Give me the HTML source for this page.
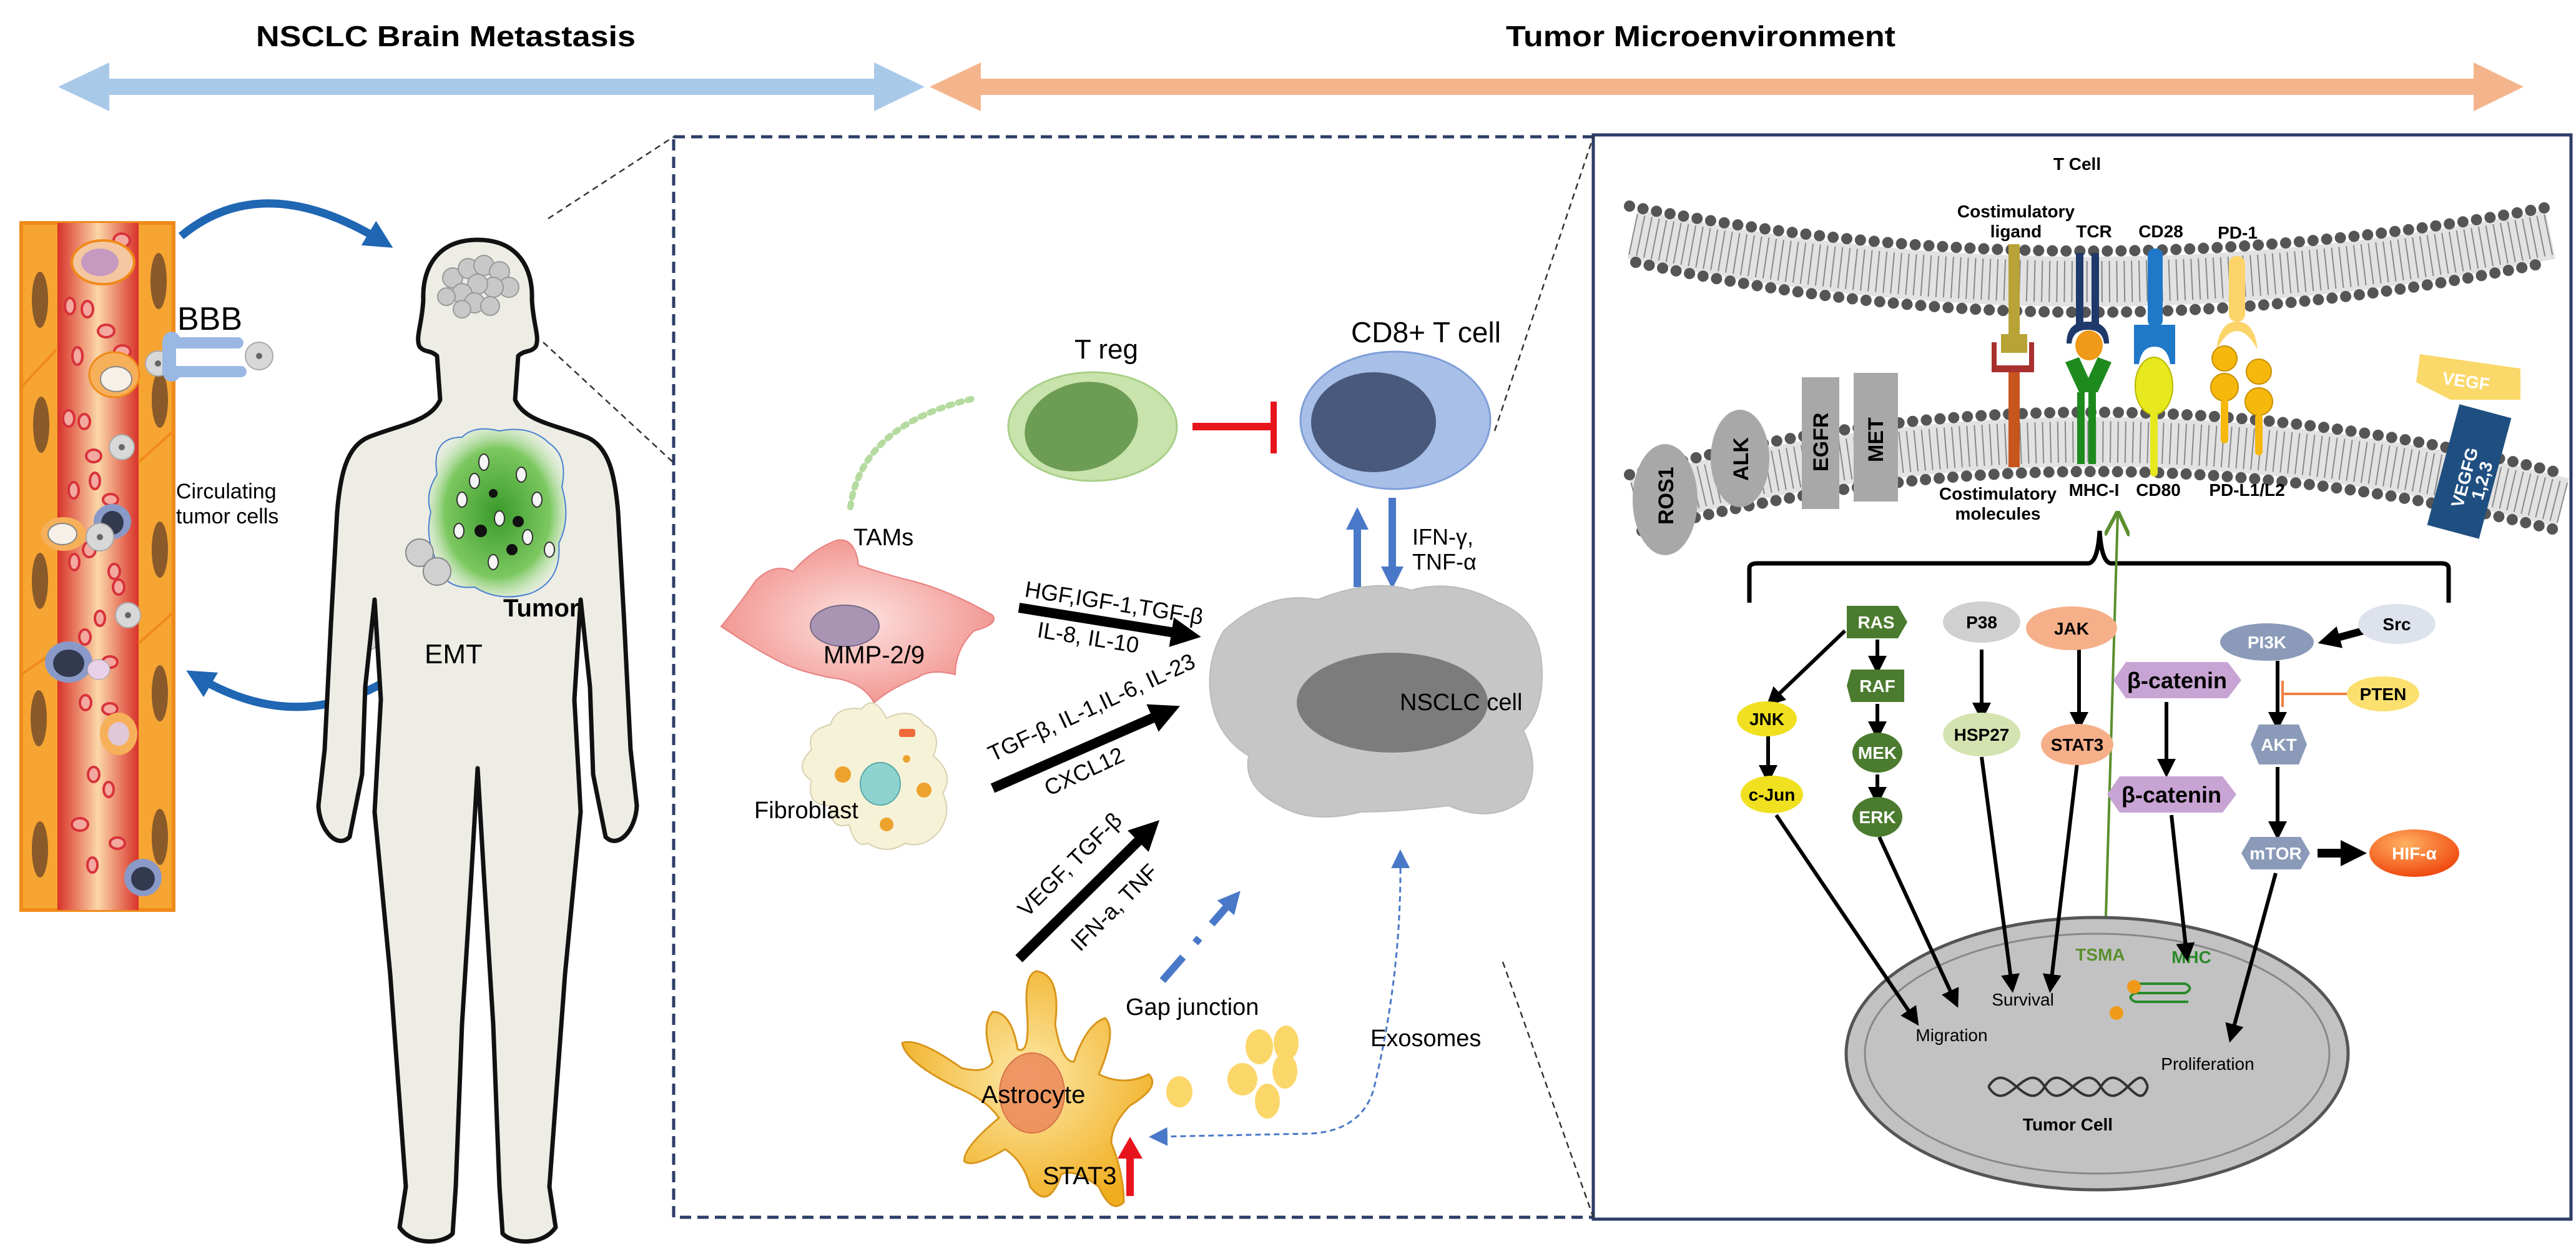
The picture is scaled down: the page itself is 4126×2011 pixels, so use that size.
<!DOCTYPE html>
<html><head><meta charset="utf-8"><style>
html,body{margin:0;padding:0;background:#fff}
svg{display:block}
text{font-family:"Liberation Sans Narrow","Liberation Sans",sans-serif}
.b{font-weight:bold}
</style></head><body>
<svg width="4126" height="2011" viewBox="0 0 4126 2011" xmlns="http://www.w3.org/2000/svg">
<defs>
<marker id="ah" viewBox="0 0 10 10" refX="5" refY="5" markerWidth="3" markerHeight="3" orient="auto"><path d="M0,0 L10,5 L0,10 z" fill="#000"/></marker>
<marker id="ahs" viewBox="0 0 10 10" refX="5" refY="5" markerWidth="5" markerHeight="5" orient="auto"><path d="M0,0 L10,5 L0,10 z" fill="#000"/></marker>
<marker id="ab" viewBox="0 0 10 10" refX="5" refY="5" markerWidth="3.5" markerHeight="3.5" orient="auto"><path d="M0,0 L10,5 L0,10 z" fill="#1f66b3"/></marker>
<marker id="ab2" viewBox="0 0 10 10" refX="5" refY="5" markerWidth="3" markerHeight="3" orient="auto"><path d="M0,0 L10,5 L0,10 z" fill="#4a78c8"/></marker>
<marker id="ab3" viewBox="0 0 10 10" refX="5" refY="5" markerWidth="10" markerHeight="10" orient="auto-start-reverse"><path d="M0,0 L10,5 L0,10 z" fill="#4a78c8"/></marker>
<marker id="ag" viewBox="0 0 10 10" refX="9" refY="5" markerWidth="10" markerHeight="10" orient="auto"><path d="M0,0 L10,5 L0,10" fill="none" stroke="#5a8f2e" stroke-width="1.5"/></marker>
<radialGradient id="gtam" cx="0.5" cy="0.5" r="0.6"><stop offset="0" stop-color="#fde3e0"/><stop offset="1" stop-color="#f08a85"/></radialGradient>
<radialGradient id="gast" cx="0.5" cy="0.45" r="0.6"><stop offset="0" stop-color="#fde9a8"/><stop offset="1" stop-color="#f0ad1e"/></radialGradient>
<radialGradient id="glung" cx="0.5" cy="0.5" r="0.55"><stop offset="0" stop-color="#3a9a2a"/><stop offset="0.7" stop-color="#7cc860"/><stop offset="1" stop-color="#d8efd0" stop-opacity="0.3"/></radialGradient>
<radialGradient id="ghif" cx="0.4" cy="0.3" r="0.7"><stop offset="0" stop-color="#ffb060"/><stop offset="1" stop-color="#f04a10"/></radialGradient>
<linearGradient id="glum" x1="0" x2="1"><stop offset="0" stop-color="#d8322a"/><stop offset="0.5" stop-color="#fbd7a8"/><stop offset="1" stop-color="#d8322a"/></linearGradient>
</defs>

<text x="714" y="74" class="b" font-size="46" text-anchor="middle" textLength="608" lengthAdjust="spacingAndGlyphs">NSCLC Brain Metastasis</text>
<text x="2724" y="74" class="b" font-size="46" text-anchor="middle" textLength="624" lengthAdjust="spacingAndGlyphs">Tumor Microenvironment</text>
<path d="M93 139 L175 100 L175 126 L1400 126 L1400 100 L1481 139 L1400 178 L1400 152 L175 152 L175 178 Z" fill="#a9c9e9"/>
<path d="M1489 139 L1571 100 L1571 126 L3962 126 L3962 100 L4042 139 L3962 178 L3962 152 L1571 152 L1571 178 Z" fill="#f5b58c"/>

<rect x="1079" y="219" width="1473" height="1730" fill="none" stroke="#2c3d66" stroke-width="5" stroke-dasharray="18 10"/>
<rect x="2552" y="216" width="1566" height="1736" fill="none" stroke="#2c3d66" stroke-width="5"/>
<g stroke="#333" stroke-width="2.5" stroke-dasharray="10 7" fill="none">
<line x1="878" y1="350" x2="1079" y2="219"/>
<line x1="870" y1="548" x2="1079" y2="741"/>
<line x1="2394" y1="690" x2="2552" y2="219"/>
<line x1="2407" y1="1540" x2="2552" y2="1949"/>
</g>

<rect x="34" y="357" width="244" height="1100" fill="#f6a532" stroke="#f08a1a" stroke-width="6"/>
<rect x="92" y="357" width="130" height="1100" fill="url(#glum)"/>
<g fill="#8a5a2a"><ellipse cx="64" cy="480" rx="13" ry="45"/><ellipse cx="66" cy="680" rx="13" ry="45"/><ellipse cx="64" cy="930" rx="13" ry="45"/><ellipse cx="62" cy="1150" rx="13" ry="45"/><ellipse cx="64" cy="1360" rx="13" ry="45"/><ellipse cx="254" cy="450" rx="13" ry="45"/><ellipse cx="256" cy="640" rx="13" ry="45"/><ellipse cx="256" cy="880" rx="13" ry="45"/><ellipse cx="256" cy="1110" rx="13" ry="45"/><ellipse cx="256" cy="1340" rx="13" ry="45"/></g>
<g stroke="#f08a1a" stroke-width="4"><line x1="34" y1="620" x2="90" y2="560"/><line x1="222" y1="740" x2="278" y2="690"/><line x1="34" y1="1080" x2="92" y2="1040"/><line x1="222" y1="1030" x2="278" y2="980"/></g>
<g fill="#f3a9a0" stroke="#d8323a" stroke-width="4">
<ellipse cx="195" cy="385" rx="13" ry="11"/><ellipse cx="112" cy="490" rx="8" ry="13"/><ellipse cx="140" cy="495" rx="9" ry="13"/><ellipse cx="170" cy="530" rx="13" ry="10"/><ellipse cx="124" cy="570" rx="8" ry="14"/><ellipse cx="196" cy="563" rx="13" ry="10"/><ellipse cx="110" cy="670" rx="9" ry="13"/><ellipse cx="135" cy="675" rx="9" ry="12"/><ellipse cx="150" cy="730" rx="12" ry="10"/><ellipse cx="152" cy="770" rx="8" ry="13"/><ellipse cx="118" cy="785" rx="8" ry="13"/><ellipse cx="177" cy="800" rx="12" ry="9"/><ellipse cx="143" cy="880" rx="10" ry="12"/><ellipse cx="119" cy="900" rx="8" ry="13"/><ellipse cx="183" cy="915" rx="9" ry="12"/><ellipse cx="190" cy="940" rx="9" ry="12"/><ellipse cx="160" cy="990" rx="8" ry="12"/><ellipse cx="136" cy="1020" rx="9" ry="12"/><ellipse cx="176" cy="1060" rx="12" ry="9"/><ellipse cx="137" cy="1125" rx="9" ry="12"/><ellipse cx="176" cy="1135" rx="12" ry="9"/><ellipse cx="150" cy="1240" rx="9" ry="12"/><ellipse cx="174" cy="1264" rx="8" ry="12"/><ellipse cx="128" cy="1320" rx="13" ry="10"/><ellipse cx="188" cy="1350" rx="12" ry="9"/><ellipse cx="148" cy="1385" rx="8" ry="12"/></g>
<ellipse cx="165" cy="420" rx="50" ry="35" fill="#f5c7a0" stroke="#f08a1a" stroke-width="4"/><ellipse cx="160" cy="420" rx="30" ry="22" fill="#c69ac0"/>
<ellipse cx="183" cy="600" rx="40" ry="36" fill="#f7b05a" stroke="#f08a1a" stroke-width="3"/><ellipse cx="186" cy="607" rx="25" ry="20" fill="#f6f0e8" stroke="#888" stroke-width="2"/>
<ellipse cx="102" cy="855" rx="36" ry="27" fill="#f7b05a"/><ellipse cx="100" cy="855" rx="23" ry="17" fill="#f6f0e8" stroke="#888" stroke-width="2"/>
<ellipse cx="180" cy="835" rx="30" ry="28" fill="#8a9ac8"/><ellipse cx="180" cy="837" rx="18" ry="19" fill="#333a50"/>
<ellipse cx="110" cy="1060" rx="38" ry="33" fill="#8a9ac8"/><ellipse cx="110" cy="1062" rx="25" ry="22" fill="#333a50"/>
<ellipse cx="229" cy="1405" rx="30" ry="30" fill="#8a9ac8"/><ellipse cx="229" cy="1407" rx="19" ry="19" fill="#333a50"/>
<ellipse cx="190" cy="1175" rx="30" ry="34" fill="#f7b05a"/><ellipse cx="190" cy="1175" rx="17" ry="19" fill="#e0c8d8"/>
<ellipse cx="158" cy="1072" rx="18" ry="16" fill="#e8d0e8" stroke="#999"/>
<g fill="#d8d8d8" stroke="#aaa" stroke-width="2"><circle cx="253" cy="582" r="20"/><circle cx="195" cy="716" r="20"/><circle cx="160" cy="860" r="22"/><circle cx="205" cy="985" r="20"/><circle cx="415" cy="570" r="22"/><circle cx="590" cy="1020" r="20"/></g>
<g fill="#666"><circle cx="253" cy="582" r="5"/><circle cx="195" cy="716" r="5"/><circle cx="160" cy="860" r="5"/><circle cx="205" cy="985" r="5"/><circle cx="415" cy="570" r="5"/><circle cx="590" cy="1020" r="5"/></g>
<g fill="#9bb8e4"><rect x="265" y="540" width="125" height="18" rx="9"/><rect x="265" y="586" width="130" height="18" rx="9"/><circle cx="275" cy="545" r="14"/><circle cx="275" cy="597" r="14"/><rect x="260" y="545" width="22" height="55"/></g>
<text x="284" y="528" font-size="52">BBB</text>
<text x="282" y="798" font-size="34">Circulating</text>
<text x="282" y="838" font-size="34">tumor cells</text>
<path d="M290 378 Q420 270 610 385" fill="none" stroke="#1f66b3" stroke-width="13" marker-end="url(#ab)"/>
<path d="M632 1082 Q480 1180 318 1085" fill="none" stroke="#1f66b3" stroke-width="13" marker-end="url(#ab)"/>

<path d="M765 384 C700 384 676 430 678 480 C676 520 665 540 672 555 C680 565 690 560 700 570 L705 640 C690 675 640 680 590 700 C555 715 545 760 540 820 L530 1000 L520 1200 L510 1290 C512 1330 540 1360 560 1340 L580 1240 L585 1100 L600 960 L610 1120 L600 1300 L625 1560 L650 1900 L640 1965 C660 1995 710 1992 725 1975 L730 1900 L740 1640 L755 1400 L765 1230 L775 1400 L790 1640 L800 1900 L805 1975 C820 1992 870 1995 890 1965 L880 1900 L905 1560 L930 1300 L920 1120 L930 960 L945 1100 L950 1240 L970 1340 C990 1360 1018 1330 1020 1290 L1010 1200 L1000 1000 L990 820 C985 760 975 715 940 700 C890 680 840 675 825 640 L830 570 C840 560 850 565 858 555 C865 540 854 520 852 480 C854 430 830 384 765 384 Z" fill="#ededE5" stroke="#111" stroke-width="7" stroke-linejoin="round"/>
<g fill="#c8c8c8" stroke="#999" stroke-width="2">
<circle cx="725" cy="445" r="16"/><circle cx="750" cy="430" r="16"/><circle cx="775" cy="425" r="16"/><circle cx="800" cy="435" r="16"/><circle cx="815" cy="460" r="16"/><circle cx="790" cy="460" r="16"/><circle cx="765" cy="455" r="16"/><circle cx="740" cy="470" r="16"/><circle cx="715" cy="475" r="14"/><circle cx="760" cy="485" r="16"/><circle cx="785" cy="490" r="15"/><circle cx="740" cy="495" r="14"/></g>
<path d="M700 760 Q690 700 740 700 Q760 680 800 690 Q850 680 880 710 Q910 730 900 780 Q915 830 895 870 Q900 930 850 950 Q800 965 760 940 Q710 945 700 900 Q680 860 690 820 Q680 790 700 760 Z" fill="url(#glung)" stroke="#4a80d0" stroke-width="2"/>
<g fill="#f5f5f5" stroke="#333" stroke-width="2"><ellipse cx="775" cy="740" rx="8" ry="13"/><ellipse cx="835" cy="760" rx="8" ry="12"/><ellipse cx="740" cy="800" rx="8" ry="12"/><ellipse cx="860" cy="800" rx="8" ry="12"/><ellipse cx="800" cy="830" rx="8" ry="12"/><ellipse cx="735" cy="850" rx="8" ry="12"/><ellipse cx="845" cy="860" rx="8" ry="12"/><ellipse cx="880" cy="880" rx="8" ry="12"/><ellipse cx="790" cy="900" rx="8" ry="12"/><ellipse cx="760" cy="770" rx="8" ry="12"/></g>
<g fill="#111"><circle cx="830" cy="835" r="9"/><circle cx="770" cy="850" r="10"/><circle cx="820" cy="880" r="9"/><circle cx="790" cy="790" r="7"/></g>
<g fill="#d0d0d0" stroke="#888" stroke-width="2"><circle cx="672" cy="885" r="22"/><circle cx="700" cy="915" r="22"/></g>
<text x="806" y="987" class="b" font-size="40" font-family="Liberation Sans">Tumor</text>
<text x="680" y="1062" font-size="44" font-family="Liberation Sans">EMT</text>

<path d="M1362 812 Q1380 680 1560 638" fill="none" stroke="#b5dba0" stroke-width="10" stroke-dasharray="6 10" stroke-linecap="round"/>
<text x="1772" y="574" font-size="44" text-anchor="middle">T reg</text>
<ellipse cx="1750" cy="683" rx="135" ry="87" fill="#c8e3ac" stroke="#a8cf88" stroke-width="3"/>
<ellipse cx="1732" cy="683" rx="92" ry="70" fill="#6d9c55" transform="rotate(-15 1732 683)"/>
<line x1="1910" y1="683" x2="2040" y2="683" stroke="#e8141c" stroke-width="12"/>
<line x1="2040" y1="643" x2="2040" y2="726" stroke="#e8141c" stroke-width="10"/>
<text x="2284" y="548" font-size="46" text-anchor="middle">CD8+ T cell</text>
<ellipse cx="2235" cy="673" rx="152" ry="110" fill="#a8bfe8" stroke="#7f9fd8" stroke-width="3"/>
<ellipse cx="2200" cy="676" rx="100" ry="80" fill="#48597c"/>
<line x1="2174" y1="940" x2="2174" y2="830" stroke="#4a78c8" stroke-width="12" marker-end="url(#ab2)"/>
<line x1="2230" y1="797" x2="2230" y2="925" stroke="#4a78c8" stroke-width="12" marker-end="url(#ab2)"/>
<text x="2262" y="872" font-size="36">IFN-γ,</text>
<text x="2262" y="912" font-size="36">TNF-α</text>
<path d="M1960 1010 Q2030 945 2110 960 Q2200 925 2260 945 Q2330 925 2400 965 Q2470 990 2470 1080 Q2470 1140 2440 1170 Q2470 1230 2440 1280 Q2390 1320 2320 1290 Q2240 1300 2180 1300 Q2100 1320 2050 1290 Q1990 1260 2000 1210 Q1950 1180 1940 1120 Q1930 1060 1960 1010 Z" fill="#c6c6c6" stroke="#bbb" stroke-width="2"/>
<ellipse cx="2230" cy="1125" rx="153" ry="80" fill="#7c7c7c"/>
<text x="2242" y="1137" font-size="38">NSCLC  cell</text>
<path d="M1155 1003 Q1190 960 1210 930 Q1240 900 1270 915 Q1300 880 1340 865 Q1370 860 1375 905 Q1420 920 1460 930 Q1520 945 1590 985 Q1600 1000 1560 1010 Q1530 1040 1530 1080 Q1490 1070 1470 1085 Q1430 1100 1400 1125 Q1380 1090 1330 1085 Q1280 1075 1250 1060 Q1210 1040 1155 1003 Z" fill="url(#gtam)" stroke="#e88080" stroke-width="2"/>
<ellipse cx="1353" cy="1002" rx="55" ry="33" fill="#a994b4" stroke="#7a6a8a" stroke-width="2"/>
<text x="1415" y="873" font-size="38" text-anchor="middle">TAMs</text>
<text x="1400" y="1062" font-size="40" text-anchor="middle">MMP-2/9</text>
<path d="M1300 1200 Q1290 1170 1330 1160 Q1340 1130 1380 1135 Q1400 1110 1420 1150 Q1460 1130 1480 1160 Q1510 1175 1495 1210 Q1530 1240 1510 1270 Q1525 1300 1505 1330 Q1480 1360 1450 1350 Q1420 1370 1390 1350 Q1370 1360 1360 1320 Q1330 1330 1330 1290 Q1290 1290 1300 1250 Q1270 1230 1300 1200 Z" fill="#f6f2d8" stroke="#d8d0b0" stroke-width="2"/>
<ellipse cx="1410" cy="1255" rx="32" ry="34" fill="#8fd3d0" stroke="#5aaaa8" stroke-width="2"/>
<g fill="#eda22e"><circle cx="1350" cy="1240" r="13"/><circle cx="1480" cy="1265" r="12"/><circle cx="1420" cy="1320" r="11"/><circle cx="1452" cy="1215" r="6"/></g>
<rect x="1440" y="1167" width="26" height="13" rx="4" fill="#ee6a3a"/>
<text x="1208" y="1310" font-size="38">Fibroblast</text>
<line x1="1632" y1="973" x2="1900" y2="1016" stroke="#000" stroke-width="16" marker-end="url(#ah)"/>
<text transform="translate(1640 955) rotate(9)" font-size="36">HGF,IGF-1,TGF-β</text>
<text transform="translate(1660 1020) rotate(9)" font-size="36">IL-8, IL-10</text>
<line x1="1590" y1="1262" x2="1868" y2="1140" stroke="#000" stroke-width="16" marker-end="url(#ah)"/>
<text transform="translate(1590 1220) rotate(-25)" font-size="36">TGF-β, IL-1,IL-6, IL-23</text>
<text transform="translate(1680 1275) rotate(-25)" font-size="36">CXCL12</text>
<line x1="1632" y1="1535" x2="1840" y2="1330" stroke="#000" stroke-width="16" marker-end="url(#ah)"/>
<text transform="translate(1645 1470) rotate(-45)" font-size="36">VEGF, TGF-β</text>
<text transform="translate(1730 1525) rotate(-45)" font-size="36">IFN-a, TNF</text>
<line x1="1862" y1="1570" x2="1975" y2="1440" stroke="#4a78c8" stroke-width="12" stroke-dasharray="50 30 10 30" marker-end="url(#ab2)"/>
<text x="1803" y="1625" font-size="38">Gap junction</text>
<path d="M2243 1375 Q2245 1560 2200 1745 Q2180 1810 2100 1815 L1855 1820" fill="none" stroke="#4a78c8" stroke-width="3" stroke-dasharray="9 6" marker-end="url(#ab3)" marker-start="url(#ab3)"/>
<text x="2195" y="1675" font-size="38">Exosomes</text>
<path d="M1660 1555 Q1700 1560 1690 1640 Q1700 1700 1720 1700 Q1740 1640 1770 1630 Q1790 1650 1760 1720 Q1800 1740 1840 1720 Q1860 1740 1810 1770 Q1780 1800 1780 1830 Q1800 1880 1800 1925 Q1780 1945 1760 1900 Q1720 1870 1700 1880 Q1680 1940 1650 1900 Q1640 1860 1610 1840 Q1560 1870 1545 1860 Q1540 1840 1600 1790 Q1580 1760 1530 1740 Q1450 1700 1445 1670 Q1470 1660 1540 1710 Q1580 1720 1590 1700 Q1570 1640 1590 1620 Q1620 1620 1630 1680 Q1650 1690 1645 1620 Q1640 1560 1660 1555 Z" fill="url(#gast)" stroke="#d8951a" stroke-width="3"/>
<ellipse cx="1653" cy="1750" rx="52" ry="64" fill="#ec8a5a" stroke="#d06040" stroke-width="2" opacity="0.85"/>
<text x="1655" y="1766" font-size="40" text-anchor="middle">Astrocyte</text>
<text x="1670" y="1896" font-size="40">STAT3</text>
<line x1="1810" y1="1915" x2="1810" y2="1850" stroke="#e8141c" stroke-width="12"/>
<path d="M1790 1855 L1810 1820 L1830 1855 Z" fill="#e8141c"/>
<g fill="#fbd76a"><ellipse cx="1889" cy="1748" rx="21" ry="25"/><ellipse cx="1990" cy="1728" rx="24" ry="26"/><ellipse cx="2017" cy="1676" rx="22" ry="28"/><ellipse cx="2060" cy="1670" rx="20" ry="28"/><ellipse cx="2058" cy="1715" rx="20" ry="28"/><ellipse cx="2030" cy="1763" rx="20" ry="28"/></g>

<text x="3327" y="272" class="b" font-size="28" text-anchor="middle">T Cell</text>
<path d="M2615 375 Q3340 527 4085 375" fill="none" stroke="#e2e2e2" stroke-width="80"/>
<path d="M2615 375 Q3340 527 4085 375" fill="none" stroke="#888" stroke-width="66" stroke-dasharray="2 10"/>
<path d="M2610 330 Q3340 474 4090 330" fill="none" stroke="#555" stroke-width="18" stroke-dasharray="0 22" stroke-linecap="round"/>
<path d="M2620 420 Q3340 580 4080 420" fill="none" stroke="#555" stroke-width="18" stroke-dasharray="0 22" stroke-linecap="round"/>
<path d="M2620 805 Q3340 610 4105 805" fill="none" stroke="#e2e2e2" stroke-width="80"/>
<path d="M2620 805 Q3340 610 4105 805" fill="none" stroke="#888" stroke-width="66" stroke-dasharray="2 10"/>
<path d="M2610 760 Q3340 560 4110 760" fill="none" stroke="#555" stroke-width="18" stroke-dasharray="0 22" stroke-linecap="round"/>
<path d="M2630 850 Q3340 660 4100 850" fill="none" stroke="#555" stroke-width="18" stroke-dasharray="0 22" stroke-linecap="round"/>
<text x="3229" y="348" class="b" font-size="28" text-anchor="middle">Costimulatory</text>
<text x="3229" y="380" class="b" font-size="28" text-anchor="middle">ligand</text>
<text x="3354" y="380" class="b" font-size="28" text-anchor="middle">TCR</text>
<text x="3461" y="380" class="b" font-size="28" text-anchor="middle">CD28</text>
<text x="3584" y="382" class="b" font-size="28" text-anchor="middle">PD-1</text>
<rect x="3217" y="391" width="18" height="160" fill="#b8a336"/>
<rect x="3205" y="535" width="42" height="30" fill="#b8a336"/>
<path d="M3190 548 L3190 596 L3258 596 L3258 548 L3250 548 L3250 585 L3198 585 L3198 548 Z" fill="#a8302e"/>
<rect x="3217" y="596" width="18" height="152" fill="#c8541e"/>
<rect x="3325" y="405" width="12" height="118" fill="#1f3a6a"/><rect x="3350" y="405" width="12" height="118" fill="#1f3a6a"/>
<path d="M3310 550 Q3310 515 3344 515 Q3378 515 3378 550 L3370 550 Q3368 528 3344 528 Q3320 528 3318 550 Z" fill="#1f3a6a"/>
<ellipse cx="3346" cy="553" rx="22" ry="24" fill="#f09a1a"/>
<path d="M3308 580 L3330 572 L3345 605 L3360 572 L3382 580 L3360 628 L3330 628 Z" fill="#1e8a1e"/>
<rect x="3327" y="628" width="12" height="115" fill="#1e8a1e"/><rect x="3345" y="628" width="12" height="115" fill="#1e8a1e"/>
<rect x="3440" y="398" width="24" height="125" rx="10" fill="#1f78c8"/>
<path d="M3418 520 L3484 520 L3484 583 L3476 583 Q3472 555 3451 555 Q3430 555 3426 583 L3418 583 Z" fill="#1f78c8"/>
<ellipse cx="3450" cy="618" rx="30" ry="46" fill="#e8e81e" stroke="#b8b800" stroke-width="2"/>
<rect x="3444" y="655" width="12" height="108" rx="6" fill="#e8e81e"/>
<rect x="3570" y="410" width="26" height="105" rx="12" fill="#fcd46a"/>
<path d="M3550 560 Q3555 515 3583 515 Q3611 515 3616 560 Q3600 530 3583 530 Q3566 530 3550 560 Z" fill="#fcd46a"/>
<g fill="#f7b80e" stroke="#c89000" stroke-width="2"><circle cx="3563" cy="574" r="20"/><circle cx="3563" cy="620" r="22"/><circle cx="3618" cy="595" r="20"/><circle cx="3618" cy="643" r="22"/></g>
<rect x="3557" y="640" width="12" height="70" rx="6" fill="#f7b80e"/><rect x="3612" y="663" width="12" height="66" rx="6" fill="#f7b80e"/>
<text x="3200" y="800" class="b" font-size="28" text-anchor="middle">Costimulatory</text>
<text x="3200" y="832" class="b" font-size="28" text-anchor="middle">molecules</text>
<text x="3354" y="794" class="b" font-size="28" text-anchor="middle">MHC-I</text>
<text x="3457" y="794" class="b" font-size="28" text-anchor="middle">CD80</text>
<text x="3599" y="794" class="b" font-size="28" text-anchor="middle">PD-L1/L2</text>
<ellipse cx="2667" cy="800" rx="52" ry="89" fill="#a8a8a8"/>
<text transform="translate(2680 840) rotate(-90)" font-family="Liberation Sans" class="b" font-size="34">ROS1</text>
<ellipse cx="2787" cy="734" rx="47" ry="78" fill="#a8a8a8"/>
<text transform="translate(2800 770) rotate(-90)" font-family="Liberation Sans" class="b" font-size="34">ALK</text>
<rect x="2886" y="604" width="60" height="211" fill="#a8a8a8"/>
<text transform="translate(2928 755) rotate(-90)" font-family="Liberation Sans" class="b" font-size="34">EGFR</text>
<rect x="2969" y="597" width="71" height="206" fill="#a8a8a8"/>
<text transform="translate(3016 740) rotate(-90)" font-family="Liberation Sans" class="b" font-size="34">MET</text>
<path d="M3876 567 L4037 590 L4037 640 L3925 640 L3870 612 Z" fill="#fbd86a"/>
<text x="3950" y="620" class="b" font-size="28" fill="#fff" text-anchor="middle" transform="rotate(8 3950 610)">VEGF</text>
<g transform="rotate(15 3955 755)"><rect x="3912" y="655" width="86" height="200" fill="#1f4f80"/>
<text transform="translate(3960 815) rotate(-90)" class="b" font-size="28" fill="#fff">VEGFG</text>
<text transform="translate(3988 795) rotate(-90)" class="b" font-size="28" fill="#fff">1,2,3</text></g>
<path d="M2802 965 L2802 910 Q2802 902 2815 902 L3345 902 Q3360 900 3363 850 Q3366 900 3381 902 L3910 902 Q3922 902 3922 910 L3922 965" fill="none" stroke="#000" stroke-width="7"/>
<line x1="3372" y1="1500" x2="3392" y2="822" stroke="#5a8f2e" stroke-width="4" marker-end="url(#ag)"/>
<ellipse cx="3359" cy="1687" rx="402" ry="218" fill="#c2c2c2" stroke="#555" stroke-width="5"/>
<ellipse cx="3359" cy="1687" rx="372" ry="192" fill="none" stroke="#888" stroke-width="3"/>
<path d="M3185 1740 C3215 1690 3245 1790 3275 1740 C3305 1690 3335 1790 3365 1740 C3395 1690 3425 1790 3440 1740" fill="none" stroke="#333" stroke-width="4"/>
<path d="M3185 1740 C3215 1790 3245 1690 3275 1740 C3305 1790 3335 1690 3365 1740 C3395 1790 3425 1690 3440 1740" fill="none" stroke="#333" stroke-width="4"/>
<path d="M3420 1575 L3500 1575 Q3515 1582 3500 1590 L3420 1590 Q3405 1597 3420 1604 L3505 1604" fill="none" stroke="#2a8a2a" stroke-width="4"/>
<circle cx="3418" cy="1580" r="11" fill="#f09a1a"/><circle cx="3390" cy="1622" r="11" fill="#f09a1a"/>
<text x="3364" y="1538" class="b" font-size="28" fill="#5a8f2e" text-anchor="middle">TSMA</text>
<text x="3510" y="1542" class="b" font-size="28" fill="#2a8a2a" text-anchor="middle">MHC</text>
<text x="3240" y="1610" font-size="28" text-anchor="middle">Survival</text>
<text x="3126" y="1667" font-size="28" text-anchor="middle">Migration</text>
<text x="3536" y="1713" font-size="28" text-anchor="middle">Proliferation</text>
<text x="3312" y="1810" class="b" font-size="28" text-anchor="middle">Tumor Cell</text>
<g stroke="#000" stroke-width="6" fill="none" marker-end="url(#ahs)">
<line x1="2955" y1="1010" x2="2840" y2="1120"/>
<line x1="3007" y1="1024" x2="3007" y2="1065"/>
<line x1="3007" y1="1127" x2="3007" y2="1170"/>
<line x1="3007" y1="1240" x2="3007" y2="1275"/>
<line x1="2832" y1="1178" x2="2832" y2="1240"/>
<line x1="3174" y1="1040" x2="3174" y2="1140"/>
<line x1="3330" y1="1040" x2="3330" y2="1155"/>
<line x1="3470" y1="1124" x2="3470" y2="1230"/>
<line x1="3648" y1="1058" x2="3648" y2="1155"/>
<line x1="3648" y1="1228" x2="3648" y2="1330"/>
<line x1="2845" y1="1305" x2="3065" y2="1630"/>
<line x1="3010" y1="1340" x2="3130" y2="1600"/>
<line x1="3174" y1="1212" x2="3222" y2="1575"/>
<line x1="3327" y1="1222" x2="3285" y2="1575"/>
<line x1="3478" y1="1305" x2="3502" y2="1525"/>
<line x1="3645" y1="1398" x2="3575" y2="1655"/>
</g>
<line x1="3785" y1="1010" x2="3730" y2="1025" stroke="#000" stroke-width="12" marker-end="url(#ah)"/>
<line x1="3712" y1="1366" x2="3770" y2="1366" stroke="#000" stroke-width="14" marker-end="url(#ah)"/>
<line x1="3760" y1="1111" x2="3658" y2="1111" stroke="#f08040" stroke-width="4"/><line x1="3656" y1="1090" x2="3656" y2="1132" stroke="#f08040" stroke-width="4"/>
<g font-size="28" class="b" text-anchor="middle">
<path d="M2958 970 L3040 970 L3055 996 L3040 1022 L2958 1022 L2958 996 Z" fill="#4b7b2e"/><text x="3005" y="1006" fill="#fff" font-weight="bold">RAS</text>
<path d="M2965 1072 L3050 1072 L3050 1124 L2965 1124 L2958 1098 Z" fill="#4b7b2e"/><text x="3007" y="1108" fill="#fff" font-weight="bold">RAF</text>
<ellipse cx="3007" cy="1205" rx="40" ry="32" fill="#4b7b2e"/><text x="3007" y="1215" fill="#fff" font-weight="bold">MEK</text>
<ellipse cx="3007" cy="1308" rx="40" ry="32" fill="#4b7b2e"/><text x="3007" y="1318" fill="#fff" font-weight="bold">ERK</text>
<ellipse cx="2830" cy="1151" rx="48" ry="28" fill="#f0e020"/><text x="2830" y="1161" font-weight="bold">JNK</text>
<ellipse cx="2838" cy="1272" rx="50" ry="30" fill="#f0e020"/><text x="2838" y="1282" font-weight="bold">c-Jun</text>
<ellipse cx="3174" cy="996" rx="62" ry="33" fill="#d0d0d0"/><text x="3174" y="1006" font-weight="bold">P38</text>
<ellipse cx="3174" cy="1176" rx="62" ry="35" fill="#d4e3b0"/><text x="3174" y="1186" font-weight="bold">HSP27</text>
<ellipse cx="3318" cy="1006" rx="73" ry="35" fill="#f5b08a"/><text x="3318" y="1016" font-weight="bold">JAK</text>
<ellipse cx="3327" cy="1192" rx="58" ry="33" fill="#f5b08a"/><text x="3327" y="1202" font-weight="bold">STAT3</text>
<path d="M3405 1060 L3568 1060 L3590 1089 L3568 1118 L3405 1118 L3385 1089 Z" fill="#c8a4d4"/><text x="3487" y="1102" font-weight="bold" font-size="36" font-family="Liberation Sans">β-catenin</text>
<path d="M3395 1243 L3560 1243 L3582 1272 L3560 1301 L3395 1301 L3375 1272 Z" fill="#c8a4d4"/><text x="3478" y="1285" font-weight="bold" font-size="36" font-family="Liberation Sans">β-catenin</text>
<ellipse cx="3839" cy="999" rx="62" ry="32" fill="#dde2ec"/><text x="3839" y="1009" font-weight="bold">Src</text>
<ellipse cx="3631" cy="1028" rx="75" ry="30" fill="#8a9ab8"/><text x="3631" y="1038" fill="#fff" font-weight="bold">PI3K</text>
<ellipse cx="3817" cy="1111" rx="58" ry="28" fill="#fbe070"/><text x="3817" y="1121" font-weight="bold">PTEN</text>
<path d="M3618 1160 L3682 1160 L3695 1192 L3682 1224 L3618 1224 L3605 1192 Z" fill="#8a9ab8"/><text x="3650" y="1202" fill="#fff" font-weight="bold">AKT</text>
<path d="M3605 1340 L3685 1340 L3700 1366 L3685 1392 L3605 1392 L3590 1366 Z" fill="#8a9ab8"/><text x="3645" y="1376" fill="#fff" font-weight="bold">mTOR</text>
<ellipse cx="3867" cy="1366" rx="72" ry="38" fill="url(#ghif)"/><text x="3867" y="1376" fill="#fff" font-weight="bold">HIF-α</text>
</g>
</svg>
</body></html>
